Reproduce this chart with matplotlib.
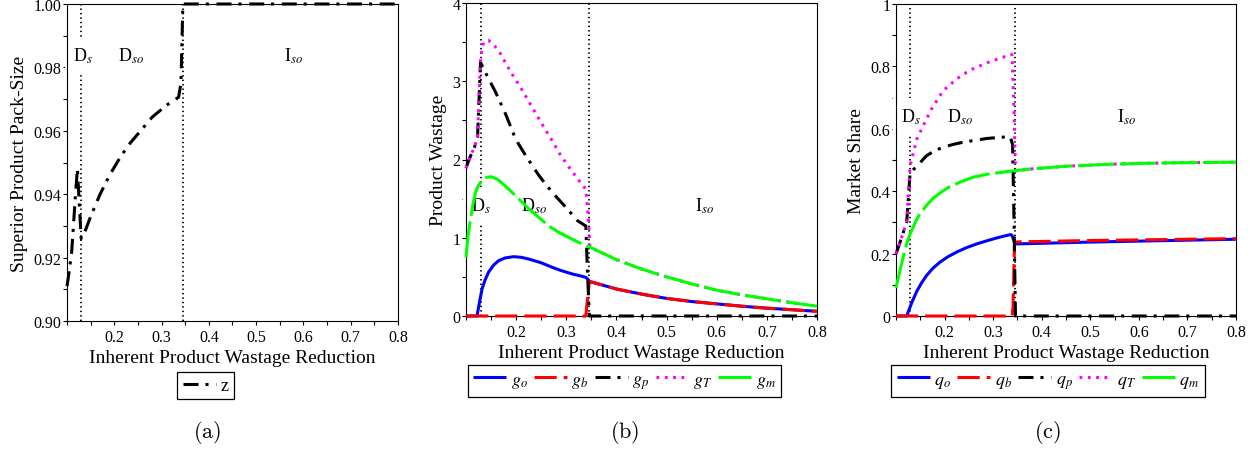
import matplotlib
matplotlib.use("Agg")
import matplotlib.pyplot as plt
from matplotlib.ticker import FixedLocator, MultipleLocator, FixedFormatter
from matplotlib.lines import Line2D

plt.rcParams["font.family"] = ["Liberation Serif", "DejaVu Serif"]
plt.rcParams["mathtext.fontset"] = "stix"
plt.rcParams["lines.scale_dashes"] = False

# ---------------- data ----------------
# regime boundaries on the wastage-reduction axis
ds_edge = 0.129
dso_edge = 0.345

# (a) superior product pack-size z
x_z = [0.100, 0.105, 0.110, 0.114, 0.118, 0.122, 0.126, 0.130, 0.140, 0.150,
       0.170, 0.190, 0.210, 0.230, 0.250, 0.280, 0.310, 0.336, 0.341, 0.345,
       0.400, 0.500, 0.600, 0.700, 0.800]
z_val = [0.911, 0.916, 0.922, 0.931, 0.940, 0.948, 0.937, 0.926, 0.929, 0.933,
         0.940, 0.946, 0.951, 0.9555, 0.959, 0.9643, 0.968, 0.9706, 0.975, 1.000,
         1.000, 1.000, 1.000, 1.000, 1.000]

# (b) product wastage
x_go = [0.100, 0.122, 0.127, 0.132, 0.138, 0.145, 0.155, 0.165, 0.178, 0.195,
        0.210, 0.225, 0.250, 0.272, 0.290, 0.312, 0.330, 0.339, 0.343, 0.346,
        0.350, 0.400, 0.450, 0.500, 0.550, 0.600, 0.650, 0.700, 0.750, 0.800]
g_o = [0.0, 0.0, 0.18, 0.345, 0.46, 0.56, 0.65, 0.707, 0.742, 0.758,
       0.75, 0.728, 0.68, 0.622, 0.58, 0.537, 0.51, 0.494, 0.47, 0.44,
       0.435, 0.345, 0.28, 0.225, 0.185, 0.155, 0.125, 0.10, 0.08, 0.06]

x_gb = [0.100, 0.339, 0.342, 0.346, 0.350, 0.400, 0.450, 0.500, 0.550, 0.600,
        0.650, 0.700, 0.750, 0.800]
g_b = [0.0, 0.0, 0.2, 0.44, 0.435, 0.345, 0.28, 0.225, 0.185, 0.155,
       0.125, 0.10, 0.08, 0.06]

x_gp = [0.100, 0.105, 0.110, 0.117, 0.123, 0.129, 0.135, 0.142, 0.159, 0.179,
        0.199, 0.219, 0.246, 0.272, 0.299, 0.322, 0.339, 0.342, 0.346, 0.800]
g_p = [1.89, 1.98, 2.06, 2.16, 2.28, 3.24, 3.16, 3.07, 2.86, 2.58,
       2.26, 2.05, 1.79, 1.58, 1.39, 1.22, 1.15, 0.60, 0.0, 0.0]

x_gT = [0.100, 0.110, 0.117, 0.123, 0.129, 0.135, 0.145, 0.155, 0.169, 0.189,
        0.209, 0.229, 0.249, 0.269, 0.289, 0.309, 0.329, 0.339, 0.344, 0.347,
        0.400, 0.450, 0.500, 0.550, 0.600, 0.650, 0.700, 0.750, 0.800]
g_T = [1.89, 2.06, 2.16, 2.28, 3.30, 3.50, 3.52, 3.47, 3.35, 3.12,
       2.92, 2.70, 2.48, 2.27, 2.05, 1.87, 1.70, 1.62, 1.25, 0.88,
       0.72, 0.60, 0.50, 0.41, 0.33, 0.27, 0.22, 0.17, 0.125]

x_gm = [0.100, 0.104, 0.109, 0.114, 0.119, 0.125, 0.132, 0.140, 0.150, 0.162,
        0.175, 0.192, 0.208, 0.225, 0.245, 0.265, 0.285, 0.306, 0.325, 0.347,
        0.400, 0.450, 0.500, 0.550, 0.600, 0.650, 0.700, 0.750, 0.800]
g_m = [0.75, 1.02, 1.24, 1.43, 1.58, 1.67, 1.73, 1.77, 1.78, 1.75,
       1.68, 1.58, 1.48, 1.37, 1.26, 1.15, 1.07, 1.00, 0.94, 0.88,
       0.72, 0.60, 0.50, 0.41, 0.33, 0.27, 0.22, 0.17, 0.125]

# (c) market share
x_qo = [0.100, 0.122, 0.133, 0.143, 0.153, 0.163, 0.176, 0.190, 0.207, 0.225,
        0.245, 0.266, 0.287, 0.307, 0.322, 0.336, 0.339, 0.343, 0.346, 0.400,
        0.500, 0.600, 0.700, 0.800]
q_o = [0.0, 0.0, 0.045, 0.080, 0.107, 0.130, 0.153, 0.172, 0.190, 0.205,
       0.219, 0.231, 0.241, 0.250, 0.256, 0.261, 0.258, 0.240, 0.231, 0.233,
       0.237, 0.240, 0.243, 0.246]

x_qb = [0.100, 0.339, 0.341, 0.344, 0.360, 0.400, 0.500, 0.600, 0.700, 0.800]
q_b = [0.0, 0.0, 0.03, 0.237, 0.238, 0.239, 0.242, 0.244, 0.246, 0.248]

x_qp = [0.100, 0.108, 0.115, 0.122, 0.129, 0.136, 0.143, 0.153, 0.163, 0.180,
        0.197, 0.218, 0.238, 0.262, 0.287, 0.310, 0.335, 0.340, 0.343, 0.346,
        0.800]
q_p = [0.199, 0.235, 0.268, 0.300, 0.460, 0.470, 0.479, 0.497, 0.514, 0.530,
       0.541, 0.550, 0.557, 0.563, 0.569, 0.572, 0.575, 0.550, 0.300, 0.0,
       0.0]

x_qT = [0.100, 0.108, 0.115, 0.122, 0.129, 0.136, 0.143, 0.156, 0.173, 0.197,
        0.225, 0.252, 0.293, 0.335, 0.339, 0.343, 0.346, 0.376, 0.450, 0.534,
        0.600, 0.671, 0.800]
q_T = [0.199, 0.235, 0.268, 0.300, 0.482, 0.525, 0.567, 0.610, 0.663, 0.722,
       0.760, 0.788, 0.815, 0.837, 0.838, 0.650, 0.465, 0.471, 0.480, 0.486,
       0.489, 0.491, 0.493]

x_qm = [0.100, 0.108, 0.115, 0.122, 0.129, 0.139, 0.149, 0.163, 0.177, 0.194,
        0.211, 0.235, 0.259, 0.290, 0.335, 0.376, 0.450, 0.534, 0.600, 0.671,
        0.800]
q_m = [0.090, 0.145, 0.190, 0.232, 0.263, 0.298, 0.328, 0.355, 0.378, 0.398,
       0.415, 0.431, 0.445, 0.455, 0.464, 0.471, 0.480, 0.486, 0.489, 0.491,
       0.493]

x_ticks = [0.2, 0.3, 0.4, 0.5, 0.6, 0.7, 0.8]
x_ticklabels = ["0.2", "0.3", "0.4", "0.5", "0.6", "0.7", "0.8"]
ya_ticks = [0.90, 0.92, 0.94, 0.96, 0.98, 1.00]
ya_ticklabels = ["0.90", "0.92", "0.94", "0.96", "0.98", "1.00"]
yb_ticks = [0, 1, 2, 3, 4]
yb_ticklabels = ["0", "1", "2", "3", "4"]
yc_ticks = [0, 0.2, 0.4, 0.6, 0.8, 1.0]
yc_ticklabels = ["0", "0.2", "0.4", "0.6", "0.8", "1"]

x_title = "Inherent Product Wastage Reduction"

# ---------------- styles ----------------
LW = 2.2
st_solid = dict(color="#0000ff", lw=LW, linestyle="-", solid_capstyle="butt")
st_dash = dict(color="#ff0000", lw=LW, linestyle=(0, (16, 5)))
st_dashdot = dict(color="#000000", lw=LW, linestyle=(0, (10.8, 5, 2.2, 5.5)))
st_dot = dict(color="#ff00ff", lw=LW, linestyle=(0, (2, 4)))
st_long = dict(color="#00ff00", lw=LW, linestyle=(0, (26, 4)))

fig = plt.figure(figsize=(12.55, 4.56), dpi=100)
W, H = 1255.0, 456.0


def add_axes(left, right, top, bottom):
    return fig.add_axes([left / W, 1 - bottom / H, (right - left) / W, (bottom - top) / H])


axa = add_axes(67, 398, 5, 322)
axb = add_axes(466, 817, 4, 317)
axc = add_axes(896, 1236, 5, 317)


def style_axes(ax, yt, ytl, ymin, ymax, yminor, ylabel, ylab_x, xlab_y):
    ax.set_xlim(0.1, 0.8)
    ax.set_ylim(ymin, ymax)
    ax.xaxis.set_major_locator(FixedLocator(x_ticks))
    ax.xaxis.set_major_formatter(FixedFormatter(x_ticklabels))
    ax.xaxis.set_minor_locator(MultipleLocator(0.05))
    ax.yaxis.set_major_locator(FixedLocator(yt))
    ax.yaxis.set_major_formatter(FixedFormatter(ytl))
    ax.yaxis.set_minor_locator(MultipleLocator(yminor))
    ax.tick_params(which="both", direction="out", length=3, width=0.8,
                   top=False, right=False, labelsize=11.5)
    ax.tick_params(axis="x", which="both", pad=3)
    ax.tick_params(axis="y", which="both", pad=1)
    for s in ax.spines.values():
        s.set_linewidth(0.8)
    ax.set_xlabel(x_title, fontsize=14, va="center")
    ax.xaxis.set_label_coords(0.5, xlab_y)
    ax.set_ylabel(ylabel, fontsize=14, va="center")
    ax.yaxis.set_label_coords(ylab_x, 0.5)
    for xv in (ds_edge, dso_edge):
        ax.axvline(xv, color="black", lw=1.3, linestyle=(0, (1, 2.2)), zorder=1)


def regime_labels(ax, y, xs):
    for xv, txt in zip(xs, ["D$_{s}$", "D$_{so}$", "I$_{so}$"]):
        ax.text(xv, y, txt, fontsize=13, ha="left", va="baseline", zorder=2,
                bbox=dict(boxstyle="square,pad=0.45", fc="white", ec="none"))


def plot_line(ax, x, y, st, label=None):
    ax.plot(x, y, clip_on=False, zorder=3, label=label, **st)


# (a)
style_axes(axa, ya_ticks, ya_ticklabels, 0.90, 1.00, 0.01,
           "Superior Product Pack-Size", -0.145, -0.1136)
regime_labels(axa, 0.9821, [0.112, 0.2087, 0.558])
plot_line(axa, x_z, z_val, st_dashdot)

# (b)
style_axes(axb, yb_ticks, yb_ticklabels, 0, 4, 0.5,
           "Product Wastage", -0.079, -0.116)
regime_labels(axb, 1.346, [0.110, 0.209, 0.557])
plot_line(axb, x_go, g_o, st_solid)
plot_line(axb, x_gb, g_b, st_dash)
plot_line(axb, x_gp, g_p, st_dashdot)
plot_line(axb, x_gT, g_T, st_dot)
plot_line(axb, x_gm, g_m, st_long)

# (c)
style_axes(axc, yc_ticks, yc_ticklabels, 0, 1, 0.1,
           "Market Share", -0.115, -0.116)
regime_labels(axc, 0.623, [0.110, 0.206, 0.556])
plot_line(axc, x_qo, q_o, st_solid)
plot_line(axc, x_qb, q_b, st_dash)
plot_line(axc, x_qp, q_p, st_dashdot)
plot_line(axc, x_qT, q_T, st_dot)
plot_line(axc, x_qm, q_m, st_long)


def legend(ax, styles, labels, cx, cy):
    handles = [Line2D([], [], **s) for s in styles]
    leg = ax.legend(handles, labels, loc="center", bbox_to_anchor=(cx / W, 1 - cy / H),
                    bbox_transform=fig.transFigure, ncol=len(labels), frameon=True,
                    fancybox=False, edgecolor="black", framealpha=1,
                    handlelength=1.83, handletextpad=0.25, columnspacing=0.35,
                    borderpad=0.3, borderaxespad=0, fontsize=13)
    leg.get_frame().set_linewidth(0.9)


legend(axa, [st_dashdot], ["z"], 205.5, 386.5)
legend(axb, [st_solid, st_dash, st_dashdot, st_dot, st_long],
       ["$g_o$", "$g_b$", "$g_p$", "$g_T$", "$g_m$"], 624.5, 382)
legend(axc, [st_solid, st_dash, st_dashdot, st_dot, st_long],
       ["$q_o$", "$q_b$", "$q_p$", "$q_T$", "$q_m$"], 1048, 382)

for cx, tag in [(207, "a"), (625, "b"), (1047, "c")]:
    fig.text(cx / W, 1 - 433 / H, r"$\mathrm{(%s)}$" % tag, math_fontfamily="cm",
             fontsize=16, ha="center", va="center")

fig.savefig("out.png", dpi=100)
